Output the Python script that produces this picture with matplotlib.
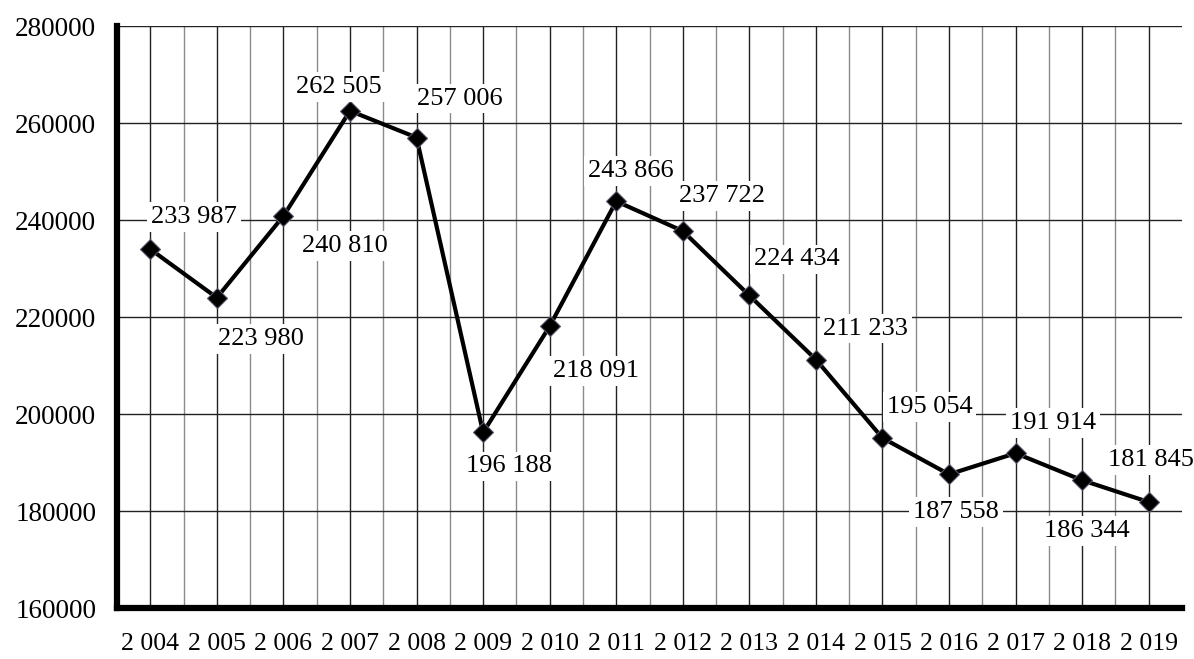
import matplotlib
matplotlib.use("Agg")
import matplotlib.pyplot as plt
import numpy as np

years = list(range(2004, 2020))
values = [233987, 223980, 240810, 262505, 257006, 196188, 218091, 243866,
          237722, 224434, 211233, 195054, 187558, 191914, 186344, 181845]
year_labels = ["2 004", "2 005", "2 006", "2 007", "2 008", "2 009", "2 010", "2 011",
               "2 012", "2 013", "2 014", "2 015", "2 016", "2 017", "2 018", "2 019"]
value_labels = ["233 987", "223 980", "240 810", "262 505", "257 006", "196 188",
                "218 091", "243 866", "237 722", "224 434", "211 233", "195 054",
                "187 558", "191 914", "186 344", "181 845"]
y_ticks = [160000, 180000, 200000, 220000, 240000, 260000, 280000]

# label offsets in pixels (dx, dy)
offsets = [(44, 32), (44, -41), (61, -30), (-11, 24), (43, 39), (26, -34),
           (46, -45), (15, 30), (39, 35), (47, 36), (50, 31), (47, 31),
           (7, -38), (37, 30), (5, -51), (2, 42)]

plt.rcParams['font.family'] = ['Liberation Serif', 'DejaVu Serif']

fig = plt.figure(figsize=(11.94, 6.59), dpi=100)
ax = fig.add_axes([117/1194, 1 - 608/659, (1182-117)/1194, (608-26)/659])

x = np.arange(len(years))
ax.set_xlim(-0.5, len(years) - 0.5)
ax.set_ylim(160000, 280000)

# grid
for xi in x:
    ax.axvline(xi, color='#222222', lw=1.0, zorder=1)
for xi in np.arange(0.5, len(years) - 0.5, 1.0):
    ax.axvline(xi, color='#8a8a8a', lw=1.0, zorder=1)
for yt in y_ticks[1:]:
    ax.axhline(yt, color='#222222', lw=1.0, zorder=1)

ax.plot(x, values, color='black', lw=3.0, marker='D', markersize=10,
        markerfacecolor='black', markeredgecolor='#555566', markeredgewidth=0.8,
        zorder=3)

for xi, v, lab, (dx, dy) in zip(x, values, value_labels, offsets):
    ax.annotate(lab, (xi, v), xytext=(dx, dy), textcoords='offset pixels',
                ha='center', va='center', fontsize=19, color='black',
                bbox=dict(boxstyle='square,pad=0.15', fc='white', ec='none'),
                zorder=4)

for s in ['top', 'right']:
    ax.spines[s].set_visible(False)
ax.spines['left'].set_linewidth(4.5)
ax.spines['bottom'].set_linewidth(4.5)
ax.spines['left'].set_zorder(5)
ax.spines['bottom'].set_zorder(5)

ax.set_yticks(y_ticks)
ax.set_yticklabels([str(t) for t in y_ticks], fontsize=19.5)
ax.set_xticks(x)
ax.set_xticklabels(year_labels, fontsize=18.5)
ax.tick_params(axis='both', length=0)
ax.tick_params(axis='y', pad=15)
ax.tick_params(axis='x', pad=18)

fig.savefig("out.png", dpi=100)
